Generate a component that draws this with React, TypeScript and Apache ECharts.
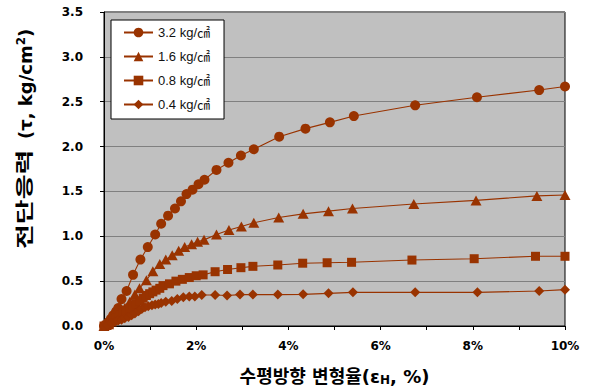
import React, { useEffect, useRef } from "react";
import * as echarts from "echarts";

const seriesNames = ["3.2 kg/㎠", "1.6 kg/㎠", "0.8 kg/㎠", "0.4 kg/㎠"];

const strain32 = [0, 0.04, 0.09, 0.15, 0.2, 0.26, 0.31, 0.38, 0.49, 0.63, 0.79, 0.95, 1.11, 1.24, 1.39, 1.54, 1.67, 1.79, 1.92, 2.05, 2.18, 2.44, 2.7, 2.97, 3.25, 3.8, 4.37, 4.9, 5.42, 6.75, 8.09, 9.44, 10.0];
const stress32 = [0, 0.01, 0.04, 0.08, 0.12, 0.16, 0.2, 0.3, 0.39, 0.57, 0.74, 0.88, 1.02, 1.14, 1.23, 1.31, 1.39, 1.47, 1.52, 1.58, 1.63, 1.74, 1.82, 1.9, 1.97, 2.11, 2.2, 2.27, 2.34, 2.46, 2.55, 2.63, 2.67];

const strain16 = [0, 0.05, 0.1, 0.16, 0.23, 0.3, 0.38, 0.45, 0.56, 0.67, 0.77, 0.92, 1.06, 1.21, 1.34, 1.48, 1.62, 1.75, 1.9, 2.03, 2.17, 2.44, 2.71, 2.98, 3.25, 3.79, 4.32, 4.87, 5.39, 6.72, 8.07, 9.39, 10.0];
const stress16 = [0, 0.01, 0.02, 0.05, 0.08, 0.12, 0.16, 0.2, 0.27, 0.35, 0.42, 0.51, 0.61, 0.69, 0.74, 0.79, 0.84, 0.88, 0.91, 0.94, 0.96, 1.02, 1.07, 1.11, 1.15, 1.21, 1.25, 1.28, 1.31, 1.36, 1.4, 1.45, 1.46];

const strain08 = [0, 0.05, 0.12, 0.2, 0.27, 0.34, 0.41, 0.48, 0.56, 0.63, 0.7, 0.78, 0.85, 0.92, 0.99, 1.06, 1.13, 1.21, 1.28, 1.42, 1.56, 1.7, 1.85, 2.0, 2.15, 2.41, 2.68, 2.97, 3.23, 3.77, 4.31, 4.84, 5.37, 6.68, 8.03, 9.36, 10.0];
const stress08 = [0, 0.01, 0.03, 0.06, 0.09, 0.12, 0.14, 0.17, 0.2, 0.23, 0.25, 0.28, 0.31, 0.34, 0.36, 0.38, 0.4, 0.42, 0.45, 0.47, 0.5, 0.52, 0.54, 0.56, 0.57, 0.605, 0.63, 0.65, 0.665, 0.68, 0.7, 0.705, 0.71, 0.735, 0.75, 0.777, 0.777];

const strain04 = [0, 0.08, 0.16, 0.24, 0.31, 0.38, 0.45, 0.53, 0.6, 0.67, 0.75, 0.82, 0.89, 0.96, 1.04, 1.11, 1.18, 1.24, 1.34, 1.47, 1.59, 1.72, 1.85, 1.97, 2.12, 2.41, 2.67, 2.95, 3.23, 3.77, 4.32, 4.87, 5.4, 6.75, 8.1, 9.44, 10.0];
const stress04 = [0, 0.01, 0.03, 0.05, 0.06, 0.07, 0.085, 0.1, 0.12, 0.14, 0.165, 0.19, 0.21, 0.22, 0.23, 0.24, 0.245, 0.255, 0.27, 0.28, 0.3, 0.32, 0.33, 0.33, 0.345, 0.345, 0.34, 0.35, 0.35, 0.35, 0.353, 0.364, 0.375, 0.375, 0.375, 0.39, 0.405];

const yTicks = [0, 0.5, 1.0, 1.5, 2.0, 2.5, 3.0, 3.5];

const yNameHangul = "전단응력";
const yNameRest = "(τ, kg/cm{sup|2})";

const pair = (xs: number[], ys: number[]) => xs.map((x, i) => [x, ys[i]]);

const COLOR = "#993300";
const BOLDF = "'DejaVu Sans', 'Noto Sans CJK KR', sans-serif";
const LEGF = "'Liberation Sans', Arial, 'Noto Sans CJK KR', sans-serif";

export default function App() {
  const ref = useRef<HTMLDivElement>(null);
  useEffect(() => {
    document.body.style.margin = "0";
    if (!ref.current) return;
    const chart = echarts.init(ref.current, undefined, { renderer: "svg" });
    const mk = (name: string, data: number[][], symbol: string, size: any) => ({
      name,
      type: "line",
      data,
      symbol,
      symbolSize: size,
      showAllSymbol: true,
      lineStyle: { color: COLOR, width: 1.1 },
      itemStyle: { color: COLOR, borderWidth: 0 },
      emphasis: { disabled: true },
    });
    chart.setOption({
      animation: false,
      backgroundColor: "#ffffff",
      textStyle: { fontFamily: BOLDF },
      grid: {
        left: 104,
        top: 12,
        right: 27,
        bottom: 62,
        outerBoundsMode: "none",
        containLabel: false,
        show: true,
        backgroundColor: "#C0C0C0",
        borderColor: "#000000",
        borderWidth: 1,
      },
      legend: {
        orient: "vertical",
        left: 111,
        top: 20,
        backgroundColor: "#ffffff",
        borderColor: "#000000",
        borderWidth: 1,
        borderRadius: 0,
        padding: [6, 14, 8, 12],
        itemWidth: 29,
        itemHeight: 12,
        itemGap: 11,
        textStyle: { fontSize: 13, color: "#111111", fontFamily: LEGF },
        data: seriesNames,
      },
      xAxis: {
        type: "value",
        min: 0,
        max: 10,
        interval: 1,
        name: "수평방향 변형율(ε{sub|H}, %)",
        nameLocation: "middle",
        nameGap: 41,
        nameTextStyle: {
          fontSize: 18,
          fontWeight: "bold",
          color: "#000",
          fontFamily: BOLDF,
          rich: {
            sub: { fontSize: 12, fontWeight: "bold", verticalAlign: "bottom", padding: [7, 0, 0, 0], fontFamily: BOLDF, color: "#000" },
          },
        },
        axisLine: { lineStyle: { color: "#000", width: 1 } },
        axisTick: { show: true, length: 4, inside: false, lineStyle: { color: "#000" } },
        axisLabel: {
          margin: 14,
          fontSize: 12,
          fontWeight: "bold",
          color: "#000",
          fontFamily: BOLDF,
          formatter: (v: number) => (Math.round(v) % 2 === 0 ? `${Math.round(v)}%` : ""),
        },
        splitLine: { show: false },
      },
      yAxis: {
        type: "value",
        min: yTicks[0],
        max: yTicks[yTicks.length - 1],
        interval: 0.5,
        axisLine: { show: true, lineStyle: { color: "#000", width: 1 } },
        axisTick: { show: true, length: 4, inside: false, lineStyle: { color: "#000" } },
        axisLabel: {
          margin: 21,
          fontSize: 12,
          fontWeight: "bold",
          color: "#000",
          fontFamily: BOLDF,
          padding: [5, 0, 0, 0],
          formatter: (v: number) => v.toFixed(1),
        },
        splitLine: { show: true, lineStyle: { color: "#808080", width: 1 } },
      },
      graphic: [
        {
          type: "group",
          x: 25,
          y: 249,
          rotation: Math.PI / 2,
          children: [
            {
              type: "text",
              x: 0,
              y: 0,
              scaleX: 1.5,
              style: {
                text: yNameHangul,
                font: `bold 18px ${BOLDF}`,
                fill: "#000",
                align: "left",
                verticalAlign: "middle",
              },
            },
            {
              type: "text",
              x: 110,
              y: 0,
              style: {
                text: yNameRest,
                font: `bold 18px ${BOLDF}`,
                fill: "#000",
                align: "left",
                verticalAlign: "middle",
                rich: {
                  sup: { fontSize: 12, fontWeight: "bold", fill: "#000", verticalAlign: "top", padding: [0, 0, 8, 0], fontFamily: BOLDF },
                },
              },
            },
          ],
        },
      ],
      series: [
        mk(seriesNames[0], pair(strain32, stress32), "circle", 10),
        mk(seriesNames[1], pair(strain16, stress16), "triangle", [11, 10]),
        mk(seriesNames[2], pair(strain08, stress08), "rect", 9),
        mk(seriesNames[3], pair(strain04, stress04), "diamond", [10, 10]),
      ],
    });
    return () => chart.dispose();
  }, []);
  return <div ref={ref} style={{ width: 592, height: 388 }} />;
}
